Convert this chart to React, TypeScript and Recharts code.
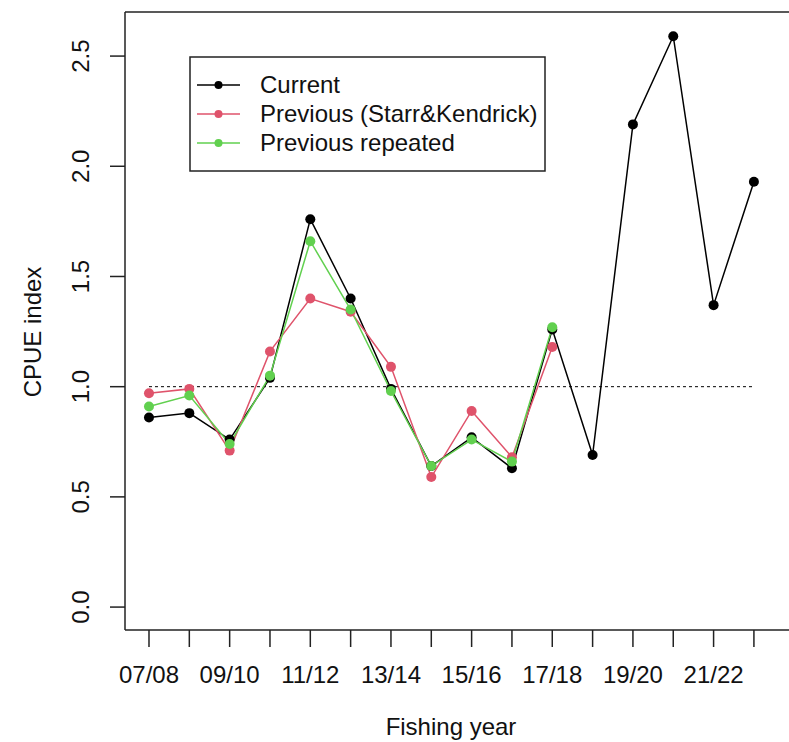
import { LineChart, Line, XAxis, YAxis, ReferenceLine } from "recharts";

const years = [
  "07/08", "08/09", "09/10", "10/11", "11/12", "12/13", "13/14", "14/15",
  "15/16", "16/17", "17/18", "18/19", "19/20", "20/21", "21/22", "22/23",
];
const current = [0.86, 0.88, 0.76, 1.04, 1.76, 1.4, 0.99, 0.64, 0.77, 0.63, 1.26, 0.69, 2.19, 2.59, 1.37, 1.93];
const previous = [0.97, 0.99, 0.71, 1.16, 1.4, 1.34, 1.09, 0.59, 0.89, 0.68, 1.18];
const repeated = [0.91, 0.96, 0.74, 1.05, 1.66, 1.35, 0.98, 0.64, 0.76, 0.66, 1.27];
const yTicks = [0, 0.5, 1, 1.5, 2, 2.5];

const BLACK = "#000000";
const PINK = "#DF536B";
const GREEN = "#61D04F";
const FONT = '"Liberation Sans", Arial, Helvetica, sans-serif';
const FS = 24;

const data = years.map((year, i) => ({
  idx: i + 1,
  year,
  current: current[i],
  previous: previous[i] ?? null,
  repeated: repeated[i] ?? null,
}));

const legendItems = [
  { label: "Current", color: BLACK },
  { label: "Previous (Starr&Kendrick)", color: PINK },
  { label: "Previous repeated", color: GREEN },
];

const XTick = (props: any) => {
  const { x, payload } = props;
  const i = payload.value - 1;
  if (i % 2 !== 0) return <g />;
  return (
    <text x={x} y={683} textAnchor="middle" fontSize={FS} fontFamily={FONT} fill="#111">
      {years[i]}
    </text>
  );
};

const YTick = (props: any) => {
  const { y, payload } = props;
  return (
    <text
      x={89}
      y={y}
      transform={`rotate(-90, 89, ${y})`}
      textAnchor="middle"
      fontSize={FS}
      fontFamily={FONT}
      fill="#111"
    >
      {payload.value.toFixed(1)}
    </text>
  );
};

export default function App() {
  return (
    <div style={{ position: "absolute", left: 0, top: 0, width: 789, height: 742, background: "#fff" }}>
      <LineChart width={789} height={742} data={data} margin={{ top: 12, right: 0, bottom: 0, left: 0 }}>
        <XAxis
          dataKey="idx"
          type="number"
          domain={[0.405, 16.87]}
          allowDataOverflow
          ticks={years.map((_, i) => i + 1)}
          interval={0}
          height={112}
          tickSize={17}
          tick={XTick}
          stroke="#222"
          strokeWidth={1.5}
        />
        <YAxis
          type="number"
          domain={[-0.104, 2.7]}
          allowDataOverflow
          ticks={yTicks}
          width={125}
          tickSize={15}
          tick={YTick}
          stroke="#222"
          strokeWidth={1.5}
        />
        <ReferenceLine y={2.7} stroke="#222" strokeWidth={1.5} ifOverflow="visible" />
        <ReferenceLine
          segment={[{ x: 1, y: 1 }, { x: 16, y: 1 }]}
          stroke="#000"
          strokeWidth={1}
          strokeDasharray="3 3"
        />
        <Line
          dataKey="current"
          stroke={BLACK}
          strokeWidth={1.5}
          dot={{ r: 5, fill: BLACK, stroke: "none" }}
          activeDot={false}
          isAnimationActive={false}
        />
        <Line
          dataKey="previous"
          stroke={PINK}
          strokeWidth={1.5}
          dot={{ r: 5, fill: PINK, stroke: "none" }}
          activeDot={false}
          isAnimationActive={false}
        />
        <Line
          dataKey="repeated"
          stroke={GREEN}
          strokeWidth={1.5}
          dot={{ r: 5, fill: GREEN, stroke: "none" }}
          activeDot={false}
          isAnimationActive={false}
        />
      </LineChart>
      <svg
        width={789}
        height={742}
        style={{ position: "absolute", left: 0, top: 0, pointerEvents: "none" }}
      >
        <text
          x={41}
          y={332}
          transform="rotate(-90, 41, 332)"
          textAnchor="middle"
          fontSize={FS}
          fontFamily={FONT}
          fill="#111"
        >
          CPUE index
        </text>
        <text x={451} y={735} textAnchor="middle" fontSize={FS} fontFamily={FONT} fill="#111">
          Fishing year
        </text>
        <rect x={190} y={57} width={355} height={114} fill="#fff" stroke="#222" strokeWidth={1.5} />
        {legendItems.map((item, i) => {
          const ly = 85 + i * 29;
          return (
            <g key={item.label}>
              <line x1={197} x2={240} y1={ly} y2={ly} stroke={item.color} strokeWidth={1.5} />
              <circle cx={218.5} cy={ly} r={4} fill={item.color} />
              <text x={260} y={ly + 8} fontSize={FS} fontFamily={FONT} fill="#111">
                {item.label}
              </text>
            </g>
          );
        })}
      </svg>
    </div>
  );
}
